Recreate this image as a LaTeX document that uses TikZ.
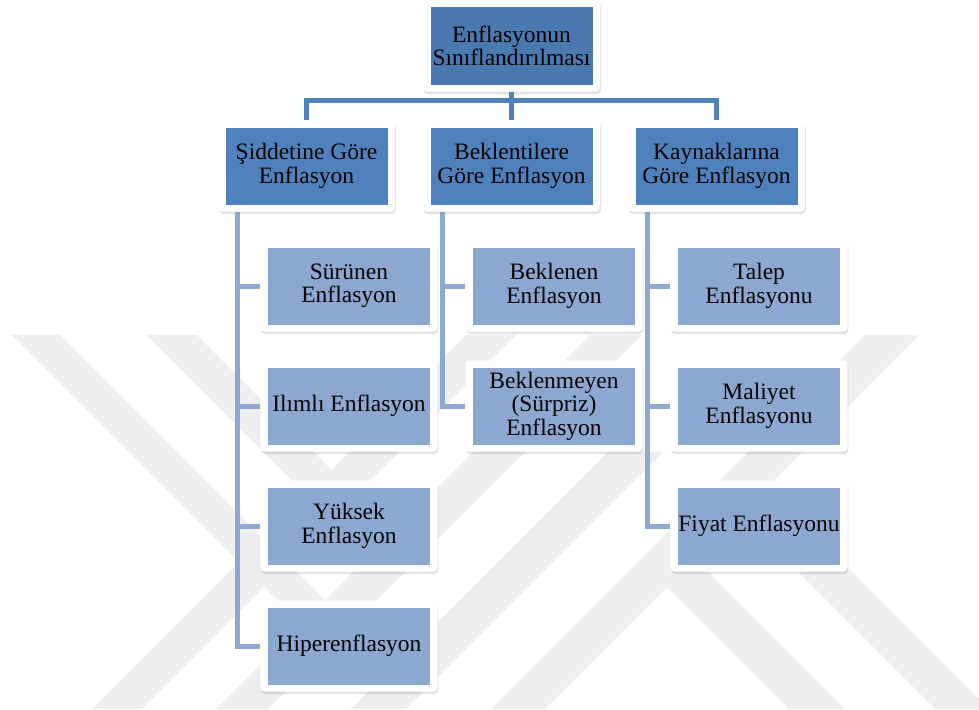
\documentclass[tikz,border=0pt]{standalone}
\usepackage{fontspec}
\setmainfont{Liberation Serif}
\usetikzlibrary{shadows}
\pgfdeclarelayer{bg}
\pgfsetlayers{bg,main}
\definecolor{topblue}{HTML}{4A78B0}
\definecolor{midblue}{HTML}{4F81BD}
\definecolor{leafblue}{HTML}{8CA7D0}
\definecolor{linedark}{HTML}{4F81BD}
\definecolor{linelight}{HTML}{8EA9D1}
\definecolor{wmgray}{HTML}{EEEEEE}
\tikzset{
  boxframe/.style={fill=white, rounded corners=4pt, minimum width=177pt, minimum height=91pt, inner sep=0pt,
    drop shadow={opacity=0.22, shadow xshift=0.8pt, shadow yshift=-2.5pt}},
  boxcore/.style={inner sep=0pt, minimum width=162pt, minimum height=77pt, align=center,
    font=\fontsize{23.5}{23.5}\selectfont, text=black},
  topcore/.style={boxcore, fill=topblue},
  midcore/.style={boxcore, fill=midblue},
  leafcore/.style={boxcore, fill=leafblue},
  busline/.style={draw=linedark, line width=5pt},
  branchline/.style={draw=linelight, line width=5pt},
  wmstrip/.style={fill=wmgray, draw=none}
}
\begin{document}
\begin{tikzpicture}[x=1pt,y=-1pt]
\useasboundingbox (0,0) rectangle (979,709);
% watermark
\begin{pgfonlayer}{bg}
\begin{scope}
\clip (0,0) rectangle (979,709);
\fill[wmstrip] (12,335) -- (60,335) -- (325,600) -- (301,624) -- cycle;
\fill[wmstrip] (147,335) -- (197,335) -- (331.5,469.5) -- (306.5,494.5) -- cycle;
\fill[wmstrip] (466,335) -- (516,335) -- (142,709) -- (92,709) -- cycle;
\fill[wmstrip] (590,335) -- (642,335) -- (268,709) -- (216,709) -- cycle;
\fill[wmstrip] (608,452) -- (663,452) -- (406,709) -- (351,709) -- cycle;
\fill[wmstrip] (865,335) -- (919,335) -- (545,709) -- (491,709) -- cycle;
\fill[wmstrip] (653.5,573.5) -- (681.5,545.5) -- (845,709) -- (789,709) -- cycle;
\fill[wmstrip] (726.5,500.5) -- (753.5,473.5) -- (989,709) -- (935,709) -- cycle;
\end{scope}
\end{pgfonlayer}
% boxes
\node[boxframe] (top) at (511.5,46) {};
\node[topcore] (topin) at (top) {Enflasyonun\\Sınıflandırılması};
\node[boxframe] (sid) at (306.5,166) {};
\node[midcore] (sidin) at (sid) {Şiddetine Göre\\Enflasyon};
\node[boxframe] (bek) at (511.5,166) {};
\node[midcore] (bekin) at (bek) {Beklentilere\\Göre Enflasyon};
\node[boxframe] (kay) at (716.5,166) {};
\node[midcore] (kayin) at (kay) {Kaynaklarına\\Göre Enflasyon};
\node[boxframe] (sur) at (349,286) {};
\node[leafcore] (surin) at (sur) {Sürünen\\Enflasyon};
\node[boxframe] (ili) at (349,406) {};
\node[leafcore] (iliin) at (ili) {Ilımlı Enflasyon};
\node[boxframe] (yuk) at (349,526) {};
\node[leafcore] (yukin) at (yuk) {Yüksek\\Enflasyon};
\node[boxframe] (hip) at (349,646) {};
\node[leafcore] (hipin) at (hip) {Hiperenflasyon};
\node[boxframe] (bkl) at (554,286) {};
\node[leafcore] (bklin) at (bkl) {Beklenen\\Enflasyon};
\node[boxframe] (bkm) at (554,406) {};
\node[leafcore] (bkmin) at (bkm) {Beklenmeyen\\(Sürpriz)\\Enflasyon};
\node[boxframe] (tal) at (759,286) {};
\node[leafcore] (talin) at (tal) {Talep\\Enflasyonu};
\node[boxframe] (mal) at (759,406) {};
\node[leafcore] (malin) at (mal) {Maliyet\\Enflasyonu};
\node[boxframe] (fiy) at (759,526) {};
\node[leafcore] (fiyin) at (fiy) {Fiyat Enflasyonu};
% connectors
\begin{pgfonlayer}{bg}
\coordinate (bus) at (511.5,100);
\draw[busline] (sid.north) |- (bus) -| (kay.north);
\draw[busline] (top.south) -- (bek.north);
\coordinate (sidt) at ([xshift=20pt]sid.south west);
\coordinate (bekt) at ([xshift=20pt]bek.south west);
\coordinate (kayt) at ([xshift=20pt]kay.south west);
\draw[branchline] (sidt) |- (hip.west);
\draw[branchline] (sidt |- sur.west) -- (sur.west);
\draw[branchline] (sidt |- ili.west) -- (ili.west);
\draw[branchline] (sidt |- yuk.west) -- (yuk.west);
\draw[branchline] (bekt) |- (bkm.west);
\draw[branchline] (bekt |- bkl.west) -- (bkl.west);
\draw[branchline] (kayt) |- (fiy.west);
\draw[branchline] (kayt |- tal.west) -- (tal.west);
\draw[branchline] (kayt |- mal.west) -- (mal.west);
\end{pgfonlayer}
\end{tikzpicture}
\end{document}
